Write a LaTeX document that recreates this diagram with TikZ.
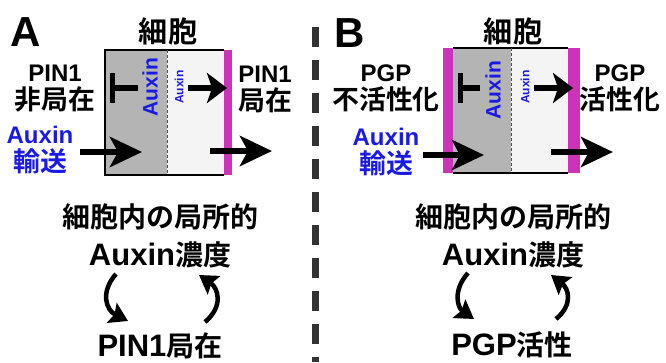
\documentclass[tikz,border=0pt]{standalone}
\usepackage{fontspec}
\usepackage{xcolor}
\usepackage{tikz}
\setmainfont{Liberation Sans}
\newfontfamily\jp{Noto Sans CJK JP}[Scale=1.12,BoldFont={Noto Sans CJK JP Bold}]
\usetikzlibrary{arrows.meta}
\definecolor{auxinblue}{HTML}{1A1AE6}
\definecolor{pinmagenta}{HTML}{CC33B8}
\definecolor{cellgray}{HTML}{B4B4B4}
\definecolor{celllight}{HTML}{F4F4F4}
\newcommand\lat[1]{{\fontsize{31}{38}\selectfont #1}}
\tikzset{
  lbl/.style={font=\bfseries\fontsize{24}{28}\selectfont, align=center, inner sep=0pt},
  ttl/.style={font=\bfseries\fontsize{26}{28}\selectfont, inner sep=0pt},
  big/.style={font=\bfseries\fontsize{25}{38}\selectfont, align=center, inner sep=0pt},
  panel/.style={font=\bfseries\fontsize{42}{42}\selectfont, inner sep=0pt},
  vert/.style={font=\bfseries\fontsize{#1}{#1}\selectfont, text=auxinblue, rotate=90, inner sep=0pt},
  fat/.style={line width=6pt, -{Stealth[length=20pt,width=30pt,inset=5pt]}},
  fatlong/.style={line width=6pt, -{Stealth[length=32pt,width=30pt,inset=8pt]}},
  loop/.style={line width=4.5pt, -{Stealth[length=18pt,width=22pt,inset=3pt]}},
}

\begin{document}
\begin{tikzpicture}[x=1pt,y=-1pt]
    \useasboundingbox (0,0) rectangle (666,362);
    % separator
    \draw[line width=7pt,black!80,dash pattern=on 20pt off 13pt] (315,27) coordinate (sepT) -- (315,362) coordinate (sepB);

    % panel A
    \node[panel] (labA) at (26,32) {A};
    \node[ttl] (cellA) at (168,31) {\jp 細胞};
    \fill[cellgray] (105,50) rectangle (167,175);
    \fill[celllight] (167,50) rectangle (224,175);
    \draw[line width=2pt] (224,50) -- (105,50) -- (105,175) -- (224,175);
    \draw[densely dashed,black!70] (167,50) -- (167,175);
    \fill[pinmagenta] (224,50) rectangle (232,175);
    \node[lbl] (pinA) at (55,89) {PIN1\\{\jp 非局在}};
    \node[lbl,text=auxinblue] (trA) at (40,150) {Auxin\\{\jp 輸送}};
    \node[lbl] (locA) at (265,89) {PIN1\\{\jp 局在}};
    \node[vert=21] (auxBigA) at (150,87) {Auxin};
    \node[vert=12] (auxSmA) at (179,87) {Auxin};
    \draw[line width=6pt] (138,88) coordinate (tA) -- (112,88);
    \draw[line width=5pt] (112,73) -- (112,103);
    \draw[fat] (188,88) coordinate (oA) -- (227,88) coordinate (oAe);
    \draw[fatlong] (80,152) coordinate (inA) -- (142,152) coordinate (inAe);
    \draw[fatlong] (210,151) coordinate (exA) -- (272,151) coordinate (exAe);
    % loop A
    \node[big] (concA) at (160,236) {{\jp 細胞内の局所的}\\\lat{Auxin}{\jp 濃度}};
    \node[big] (fbA) at (160,346) {\lat{PIN1}{\jp 局在}};
    \draw[loop] (116,274) .. controls (100,292) and (106,310) .. (128,321);
    \draw[loop] (205,322) .. controls (224,306) and (218,288) .. (199,275);

    % panel B
    \node[panel] (labB) at (350,33) {B};
    \node[ttl] (cellB) at (513,31) {\jp 細胞};
    \fill[cellgray] (453,48) rectangle (511,173);
    \fill[celllight] (511,48) rectangle (568,173);
    \draw[line width=2pt] (453,48) -- (568,48);
    \draw[line width=2pt] (453,173) -- (568,173);
    \draw[densely dashed,black!70] (511,48) -- (511,173);
    \fill[pinmagenta] (443,48) rectangle (453,173);
    \fill[pinmagenta] (568,48) rectangle (580,173);
    \node[lbl] (pgpOff) at (386,88) {PGP\\{\jp 不活性化}};
    \node[lbl,text=auxinblue] (trB) at (386,152) {Auxin\\{\jp 輸送}};
    \node[lbl] (pgpOn) at (620,88) {PGP\\{\jp 活性化}};
    \node[vert=21] (auxBigB) at (493,90) {Auxin};
    \node[vert=12] (auxSmB) at (525,87) {Auxin};
    \draw[line width=6pt] (480,88) coordinate (tB) -- (460,88);
    \draw[line width=5pt] (460,73) -- (460,103);
    \draw[fat] (534,88) coordinate (oB) -- (573,88) coordinate (oBe);
    \draw[fatlong] (423,155) coordinate (inB) -- (484,155) coordinate (inBe);
    \draw[fatlong] (551,152) coordinate (exB) -- (613,152) coordinate (exBe);
    % loop B
    \node[big] (concB) at (513,236) {{\jp 細胞内の局所的}\\\lat{Auxin}{\jp 濃度}};
    \node[big] (fbB) at (512,345) {\lat{PGP}{\jp 活性}};
    \draw[loop] (468,273) .. controls (452,291) and (458,308) .. (474,319);
    \draw[loop] (556,319) .. controls (574,304) and (568,288) .. (551,275);
\end{tikzpicture}
\end{document}
